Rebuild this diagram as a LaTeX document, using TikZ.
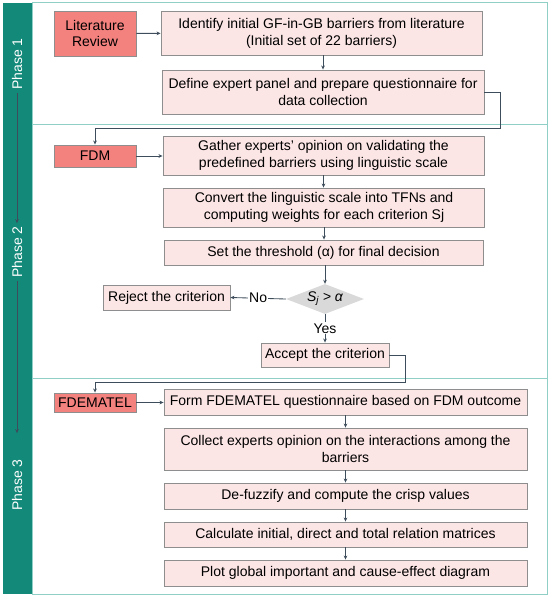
\documentclass[tikz,border=0pt]{standalone}
\usepackage{fontspec}
\setmainfont{Liberation Sans}
\usetikzlibrary{arrows.meta,shapes.geometric}
\definecolor{phaseteal}{HTML}{13897A}
\definecolor{framecol}{HTML}{8FCFC6}
\definecolor{linecol}{HTML}{3E4D5B}
\definecolor{boxpink}{HTML}{FCE5E5}
\definecolor{boxred}{HTML}{F3817E}
\definecolor{boxedge}{HTML}{8E8E8E}
\definecolor{decgray}{HTML}{D9D9D9}
\begin{document}
\begin{tikzpicture}[
    x=1pt, y=-1pt,
    every node/.style={font=\fontsize{14}{16.8}\selectfont},
    procbox/.style={rectangle, draw=boxedge, line width=0.9pt, fill=boxpink, align=center, inner sep=1pt},
    methodbox/.style={procbox, fill=boxred},
    decision/.style={diamond, fill=decgray, aspect=2.4, inner sep=0pt, minimum width=78pt, minimum height=30pt},
    phase/.style={rotate=90, text=white, inner sep=3pt},
    arrow/.style={-{Stealth[length=4pt,width=3.6pt]}, draw=linecol, line width=0.85pt}
  ]
  \useasboundingbox (0,0) rectangle (550,596);

  % Frame and phase bands
  \fill[phaseteal] (3,3) rectangle (32,594);
  \draw[framecol, line width=1pt] (32,3) rectangle (547,594);
  \draw[framecol, line width=1pt] (32,124.5) -- (547,124.5);
  \draw[framecol, line width=1pt] (32,378.5) -- (547,378.5);

  \node[phase] (ph1) at (17,64) {Phase 1};
  \node[phase] (ph2) at (17,252) {Phase 2};
  \node[phase] (ph3) at (17,485) {Phase 3};
  \draw[arrow] (ph1) -- (ph2);
  \draw[arrow, shorten >=23pt] (ph2) -- (ph3);

  % Phase 1
  \node[methodbox, minimum width=82pt, minimum height=45pt] (lit) at (95,33.5) {Literature\\Review};
  \node[procbox, minimum width=321pt, minimum height=44pt] (ident) at (321.5,33) {Identify initial GF-in-GB barriers from literature\\(Initial set of 22 barriers)};
  \node[procbox, minimum width=322pt, minimum height=44pt] (define) at (323,92) {Define expert panel and prepare questionnaire for\\data collection};

  % Phase 2
  \node[methodbox, minimum width=82pt, minimum height=22pt] (fdm) at (95,156) {FDM};
  \node[procbox, minimum width=321pt, minimum height=39pt] (gather) at (323.5,155.5) {Gather experts' opinion on validating the\\predefined barriers using linguistic scale};
  \node[procbox, minimum width=321pt, minimum height=39pt] (convert) at (324,207.5) {Convert the linguistic scale into TFNs and\\computing weights for each criterion Sj};
  \node[procbox, minimum width=319pt, minimum height=25pt] (thresh) at (323.5,252.5) {Set the threshold (α) for final decision};
  \node[decision] (dec) at (325,299) {\itshape S\textsubscript{j} > α};
  \node[procbox, minimum width=127pt, minimum height=25pt] (reject) at (166.5,297.5) {Reject the criterion};
  \node[procbox, minimum width=128pt, minimum height=24pt] (accept) at (325,355) {Accept the criterion};

  % Phase 3
  \node[methodbox, minimum width=82pt, minimum height=19pt] (fdematel) at (95,402.5) {FDEMATEL};
  \node[procbox, minimum width=363pt, minimum height=26pt] (form) at (345.5,402) {Form FDEMATEL questionnaire based on FDM outcome};
  \node[procbox, minimum width=363pt, minimum height=42pt] (collect) at (345.5,449) {Collect experts opinion on the interactions among the\\barriers};
  \node[procbox, minimum width=363pt, minimum height=26pt] (defuzz) at (345.5,496) {De-fuzzify and compute the crisp values};
  \node[procbox, minimum width=363pt, minimum height=25pt] (calc) at (345.5,534.5) {Calculate initial, direct and total relation matrices};
  \node[procbox, minimum width=363pt, minimum height=26pt] (plot) at (345.5,573) {Plot global important and cause-effect diagram};

  % Connectors
  \draw[arrow] (lit) -- (ident);
  \draw[arrow] (ident.south -| define.north) -- (define.north);
  \draw[arrow] (define.east) -| ++(16,36) -| (fdm.north);
  \draw[arrow] (fdm) -- (gather.west |- fdm);
  \draw[arrow] (gather) -- (gather |- convert.north);
  \draw[arrow] (convert) -- (convert |- thresh.north);
  \draw[arrow] (thresh.south -| dec.north) -- (dec.north);
  \draw[arrow] (dec.west) -- node[fill=white, inner sep=1pt] (no) {No} (reject.east);
  \draw[arrow] (dec.south) -- node[fill=white, inner sep=1pt] (yes) {Yes} (accept.north);
  \draw[arrow] (accept.east) -| ++(16,27) -| (fdematel.north);
  \draw[arrow] (fdematel) -- (form.west |- fdematel);
  \draw[arrow] (form) -- (collect);
  \draw[arrow] (collect) -- (defuzz);
  \draw[arrow] (defuzz) -- (calc);
  \draw[arrow] (calc) -- (plot);
\end{tikzpicture}
\end{document}
